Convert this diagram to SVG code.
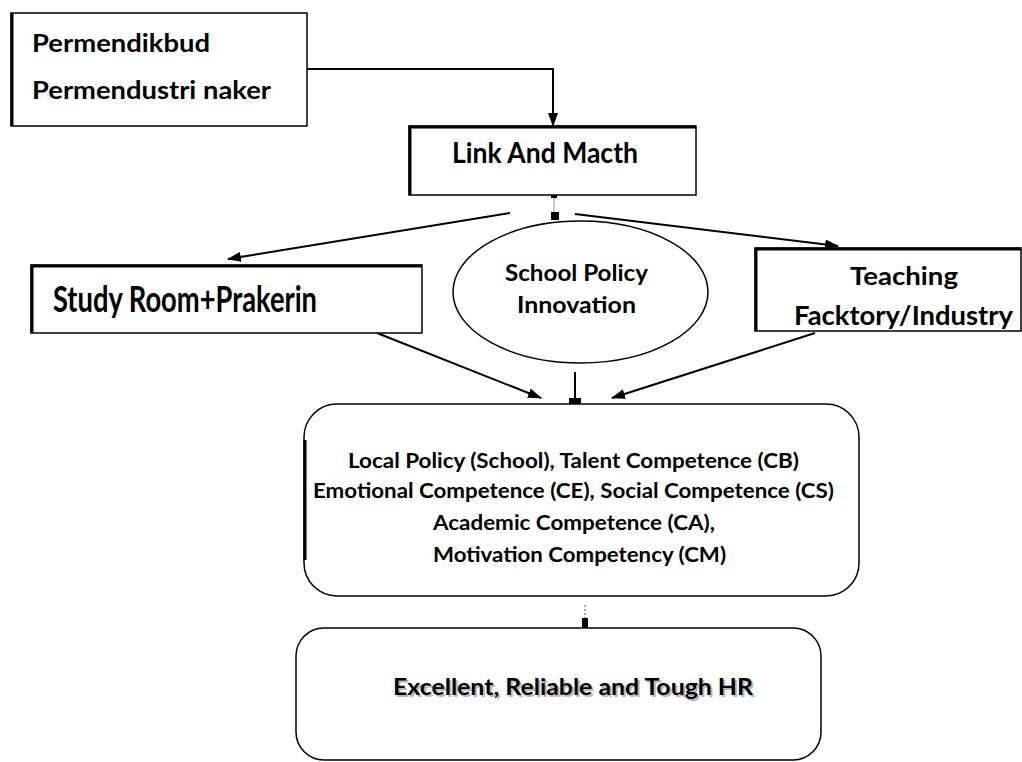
<svg xmlns="http://www.w3.org/2000/svg" width="1022" height="762" viewBox="0 0 1022 762">
<style>
text{font-family:Lato,"Liberation Sans",sans-serif;font-weight:bold;fill:#000}
.box{fill:#fff;stroke:#000;stroke-width:1.5}
.thick{stroke:#000;stroke-width:3}
.c{stroke:#000;stroke-width:2;fill:none}
.shadow{fill:#b8b8b8}
</style>
<defs>
<marker id="ah" viewBox="0 0 14 10" refX="13" refY="5" markerWidth="14" markerHeight="10" markerUnits="userSpaceOnUse" orient="auto">
<path d="M0,0 L14,5 L0,10 z" fill="#000"/>
</marker>
</defs>
<rect width="1022" height="762" fill="#fff"/>
<g id="connectors">
<polyline class="c" points="307,69 553,69 553,126" marker-end="url(#ah)"/>
<line x1="554" y1="195" x2="554" y2="213" stroke="#bbb" stroke-width="1.5"/>
<rect x="551" y="195" width="6" height="3" fill="#000"/>
<rect x="551" y="212" width="8" height="8" fill="#000"/>
<line class="c" x1="510" y1="213" x2="228" y2="259" marker-end="url(#ah)"/>
<line class="c" x1="575" y1="214" x2="838" y2="246" marker-end="url(#ah)"/>
<line class="c" x1="377" y1="333" x2="541" y2="398" marker-end="url(#ah)"/>
<line class="c" x1="815" y1="333" x2="612" y2="398" marker-end="url(#ah)"/>
<line class="c" x1="575" y1="372" x2="575" y2="398"/>
<rect x="569" y="398" width="12" height="12" fill="#000"/>
<line x1="585" y1="605" x2="585" y2="618" stroke="#aaa" stroke-width="2" stroke-dasharray="2,2"/>
<rect x="582" y="618" width="6" height="10" fill="#000"/>
</g>
<g id="permendikbud">
<rect class="box" x="11" y="13" width="296" height="113"/>
<line class="thick" x1="12" y1="13" x2="12" y2="126"/>
<text x="32" y="52" font-size="25.5" textLength="178" lengthAdjust="spacingAndGlyphs">Permendikbud</text>
<text x="32" y="99" font-size="25.5" textLength="239" lengthAdjust="spacingAndGlyphs">Permendustri naker</text>
</g>
<g id="link">
<rect class="box" x="409" y="126" width="287" height="69"/>
<line class="thick" x1="410" y1="126" x2="410" y2="195"/>
<line class="thick" x1="409" y1="127" x2="696" y2="127"/>
<text x="452" y="163" font-size="28" textLength="186" lengthAdjust="spacingAndGlyphs">Link And Macth</text>
</g>
<g id="study">
<rect class="box" x="31" y="265" width="391" height="68"/>
<line class="thick" x1="32" y1="265" x2="32" y2="333"/>
<line class="thick" x1="31" y1="266" x2="422" y2="266"/>
<text x="53" y="312" font-size="36" textLength="264" lengthAdjust="spacingAndGlyphs">Study Room+Prakerin</text>
</g>
<g id="school">
<ellipse class="box" cx="580.5" cy="292" rx="127.5" ry="71"/>
<text x="505" y="281" font-size="22" textLength="143" lengthAdjust="spacingAndGlyphs">School Policy</text>
<text x="517" y="313" font-size="22" textLength="119" lengthAdjust="spacingAndGlyphs">Innovation</text>
</g>
<g id="teaching">
<rect class="box" x="755" y="248" width="266" height="83"/>
<line class="thick" x1="756" y1="248" x2="756" y2="331"/>
<line class="thick" x1="755" y1="249" x2="1021" y2="249"/>
<text x="850" y="285" font-size="25" textLength="108" lengthAdjust="spacingAndGlyphs">Teaching</text>
<text x="794" y="325" font-size="27" textLength="219" lengthAdjust="spacingAndGlyphs">Facktory/Industry</text>
</g>
<g id="competence">
<rect class="box" x="304" y="404" width="555" height="192" rx="33" ry="33"/>
<line class="thick" x1="305" y1="440" x2="305" y2="560"/>
<text x="348" y="468" font-size="20.5" textLength="451" lengthAdjust="spacingAndGlyphs">Local Policy (School), Talent Competence (CB)</text>
<text x="313" y="498" font-size="20.5" textLength="521" lengthAdjust="spacingAndGlyphs">Emotional Competence (CE), Social Competence (CS)</text>
<text x="433" y="530" font-size="20.5" textLength="282" lengthAdjust="spacingAndGlyphs">Academic Competence (CA),</text>
<text x="433" y="562" font-size="20.5" textLength="293" lengthAdjust="spacingAndGlyphs">Motivation Competency (CM)</text>
</g>
<g id="hr">
<rect class="box" x="296" y="628" width="525" height="132" rx="28" ry="28"/>
<text class="shadow" x="395" y="697" font-size="23.5" textLength="360" lengthAdjust="spacingAndGlyphs">Excellent, Reliable and Tough HR</text>
<text x="393" y="695" font-size="23.5" textLength="360" lengthAdjust="spacingAndGlyphs">Excellent, Reliable and Tough HR</text>
</g>
</svg>
